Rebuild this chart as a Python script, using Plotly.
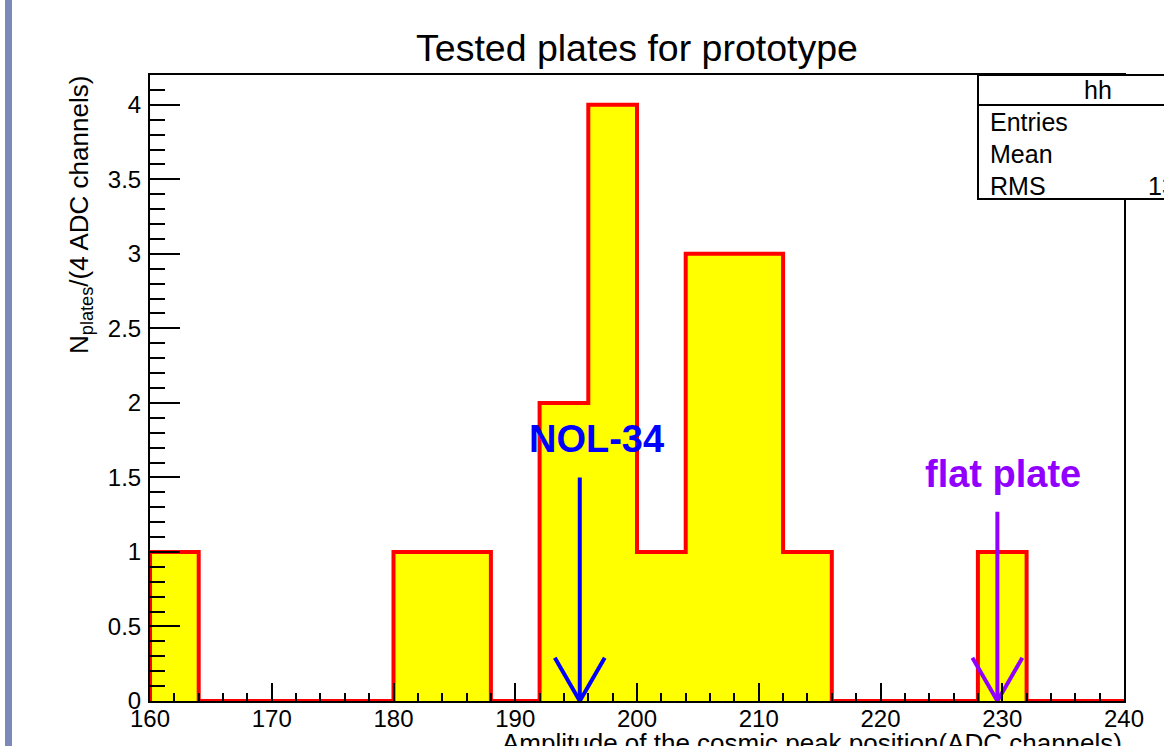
import plotly.graph_objects as go

# ---------------- data ----------------
bin_edges = [160, 164, 168, 172, 176, 180, 184, 188, 192, 196, 200,
             204, 208, 212, 216, 220, 224, 228, 232, 236, 240]
counts = [1, 0, 0, 0, 0, 1, 1, 0, 2, 4, 1, 3, 3, 1, 0, 0, 0, 1, 0, 0]

arrow_labels = ["NOL-34", "flat plate"]
arrow_x = [195.3, 229.6]
arrow_top = [1.5, 1.27]
label_x = [196.7, 230.1]
label_y = [1.755, 1.525]
arrow_colors = ["#0000ff", "#9100ff"]

stats_names = ["Entries", "Mean", "RMS"]
stats_values = ["", "", "13"]

title_text = "Tested plates for prototype"
x_title = "Amplitude of the cosmic peak position(ADC channels)"
y_title = "N<sub>plates</sub>/(4 ADC channels)"

# ---------------- style ----------------
FONT = "Liberation Sans, Arial, Helvetica, sans-serif"
W, H = 1164, 746
ML, MR, MT, MB = 150, 40, 75, 45
PW, PH = W - ML - MR, H - MT - MB


def px_x(p):
    return (p - ML) / PW


def px_y(p):
    return (H - MB - p) / PH


WING_DX = 2.05
WING_DY = 0.29

fig = go.Figure()

# histogram (step, filled)
step_x = [bin_edges[0]] + bin_edges
step_y = [0] + counts + [counts[-1]]
fig.add_trace(go.Scatter(
    x=step_x, y=step_y, mode="lines", line=dict(shape="hv", color="#ff0000", width=4),
    fill="tozeroy", fillcolor="#ffff00", cliponaxis=False, hoverinfo="skip",
    showlegend=False))

# arrows
for lab, ax, top, lx, ly, col in zip(arrow_labels, arrow_x, arrow_top, label_x, label_y, arrow_colors):
    fig.add_trace(go.Scatter(
        x=[ax, ax, None, ax - WING_DX, ax, ax + WING_DX],
        y=[top, 0, None, WING_DY, 0, WING_DY],
        mode="lines", line=dict(color=col, width=4), cliponaxis=False,
        hoverinfo="skip", showlegend=False))
    fig.add_annotation(x=lx, y=ly, xref="x", yref="y", text=f"<b>{lab}</b>",
                       showarrow=False, xanchor="center", yanchor="middle",
                       font=dict(family=FONT, size=38, color=col))

shapes = []
# left decorative strip
shapes.append(dict(type="rect", xref="paper", yref="paper",
                   x0=px_x(5), x1=px_x(12), y0=px_y(H + 5), y1=px_y(-5),
                   fillcolor="#7b88b9", line=dict(width=0), layer="above"))
# stats box
shapes.append(dict(type="rect", xref="paper", yref="paper",
                   x0=px_x(978), x1=px_x(1220), y0=px_y(199), y1=px_y(75),
                   fillcolor="white", line=dict(color="black", width=2), layer="above"))
shapes.append(dict(type="line", xref="paper", yref="paper",
                   x0=px_x(978), x1=px_x(1220), y0=px_y(105), y1=px_y(105),
                   line=dict(color="black", width=2), layer="above"))

annotations = []
annotations.append(dict(x=px_x(1098), y=px_y(90), xref="paper", yref="paper", text="hh",
                        showarrow=False, xanchor="center", yanchor="middle",
                        font=dict(family=FONT, size=25, color="black")))
for i, (nm, val) in enumerate(zip(stats_names, stats_values)):
    yy = px_y(122 + 32 * i)
    annotations.append(dict(x=px_x(988), y=yy, xref="paper", yref="paper", text=nm,
                            showarrow=False, xanchor="left", yanchor="middle",
                            font=dict(family=FONT, size=25, color="black")))
    if val:
        annotations.append(dict(x=px_x(1146), y=yy, xref="paper", yref="paper", text=val,
                                showarrow=False, xanchor="left", yanchor="middle",
                                font=dict(family=FONT, size=25, color="black")))

# axis titles (ROOT style, right aligned)
annotations.append(dict(x=1.0, y=px_y(726), xref="paper", yref="paper", text=x_title,
                        showarrow=False, xanchor="right", yanchor="top",
                        font=dict(family=FONT, size=26, color="black")))
annotations.append(dict(x=px_x(80), y=px_y(74), xref="paper", yref="paper", text=y_title,
                        showarrow=False, xanchor="center", yanchor="top", textangle=-90,
                        font=dict(family=FONT, size=26, color="black")))

for a in annotations:
    fig.add_annotation(**a)

fig.update_layout(
    width=W, height=H,
    margin=dict(l=ML, r=MR, t=MT, b=MB),
    paper_bgcolor="white", plot_bgcolor="white",
    title=dict(text=title_text, x=0.5, xref="paper", xanchor="center",
               y=1 - 48 / H, yref="container", yanchor="middle",
               font=dict(family=FONT, size=37.5, color="black")),
    shapes=shapes,
    showlegend=False,
    xaxis=dict(range=[160, 240], tickmode="linear", tick0=160, dtick=10,
               ticks="inside", ticklen=18, tickwidth=1.5, tickcolor="black",
               showline=True, linecolor="black", linewidth=2, mirror=True,
               showgrid=False, zeroline=False, layer="above traces",
               tickfont=dict(family=FONT, size=24, color="black"),
               ticklabelstandoff=-5,
               minor=dict(dtick=2, tick0=160, ticks="inside", ticklen=8,
                          tickwidth=1.5, tickcolor="black", showgrid=False)),
    yaxis=dict(range=[0, 4.2], tickmode="linear", tick0=0, dtick=0.5,
               ticks="inside", ticklen=30, tickwidth=1.5, tickcolor="black",
               showline=True, linecolor="black", linewidth=2, mirror=True,
               showgrid=False, zeroline=False, layer="above traces",
               tickfont=dict(family=FONT, size=24, color="black"),
               ticklabelstandoff=2,
               minor=dict(dtick=0.1, tick0=0, ticks="inside", ticklen=15,
                          tickwidth=1.5, tickcolor="black", showgrid=False)),
)

fig.write_html("out.html")
